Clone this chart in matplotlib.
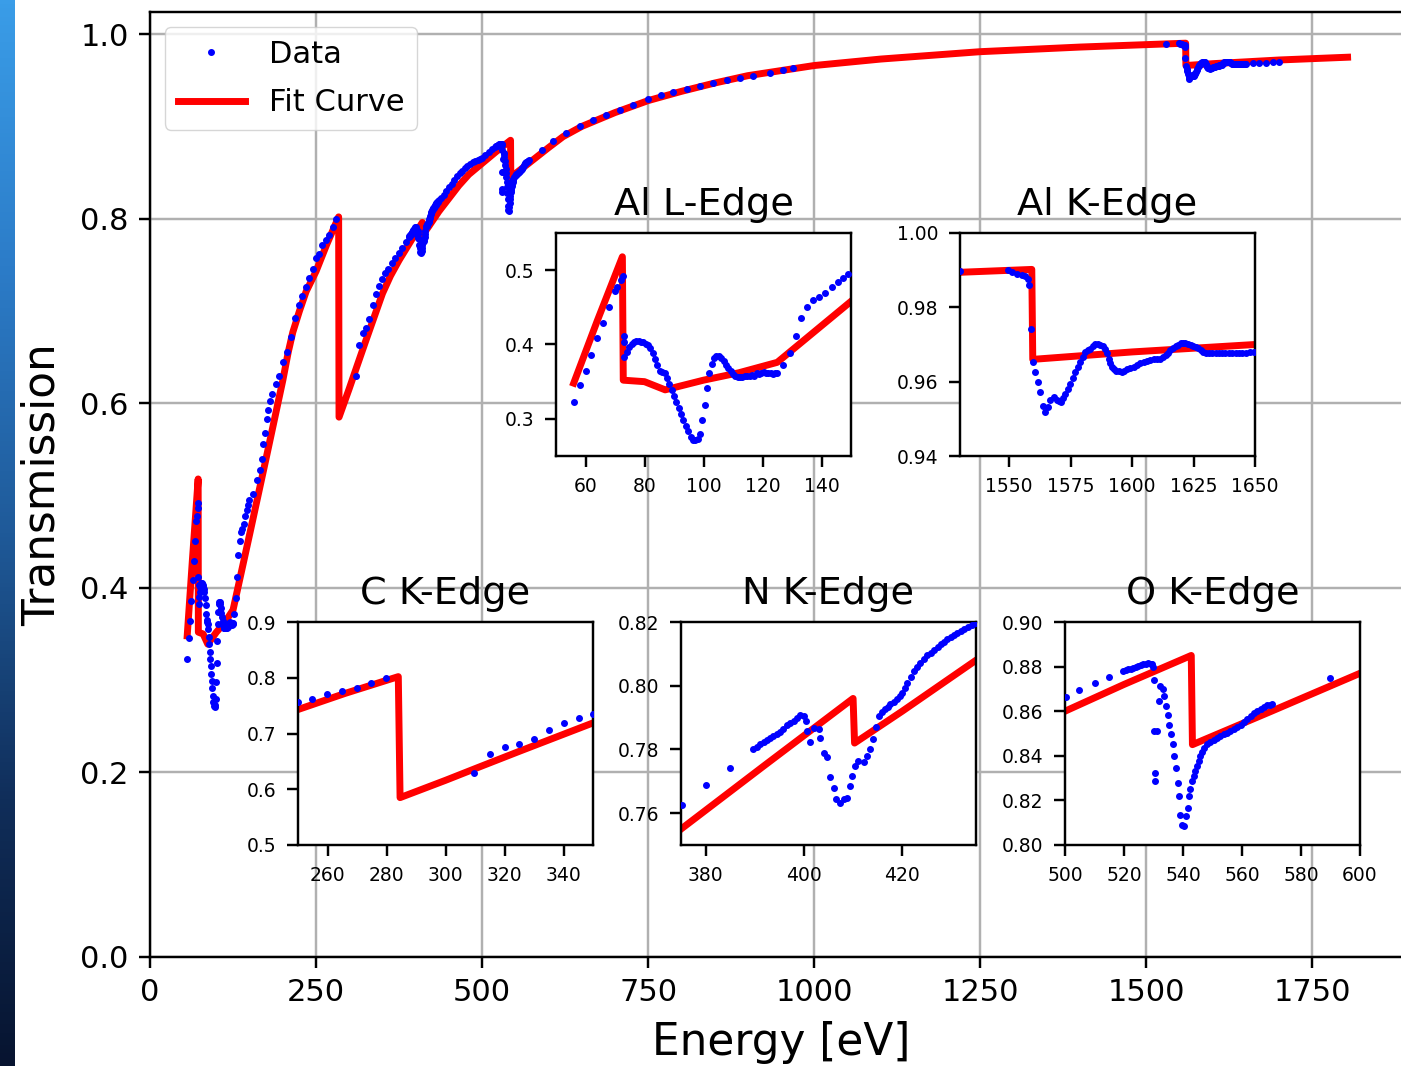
import numpy as np
import matplotlib
matplotlib.use('Agg')
import matplotlib.pyplot as plt
from matplotlib.colors import LinearSegmentedColormap

alL_E = [56.0, 58.0, 60.0, 62.0, 64.0, 66.0, 68.1, 70.0, 70.8, 71.9, 72.7, 73.0, 73.05, 73.1,
         74.0, 74.8, 75.6, 76.4, 77.2, 78.0, 78.8, 79.6, 80.4, 81.2, 82.0, 82.8, 83.6, 84.4,
         85.2, 86.0, 86.8, 87.6, 88.4, 89.2, 90.0, 90.8, 91.6, 92.4, 93.2, 94.0, 94.8, 95.6,
         96.4, 97.2, 98.0, 98.8, 99.6, 100.4, 101.2, 102.0, 102.8, 103.6, 104.4, 105.2, 106.0,
         106.8, 107.6, 108.4, 109.2, 110.0, 110.8, 111.6, 112.4, 113.2, 114.0, 114.8, 115.6,
         116.4, 117.2, 118.0, 118.8, 119.6, 120.4, 121.2, 122.0, 122.8, 123.6, 124.4, 125.0,
         127.0, 129.2, 131.2, 133.2, 135.2, 137.2, 139.1, 141.1, 143.4, 145.5, 147.4, 149.1]
alL_T = [0.323, 0.346, 0.364, 0.386, 0.409, 0.429, 0.451, 0.472, 0.478, 0.487, 0.492, 0.412, 0.403, 0.383,
         0.390, 0.396, 0.401, 0.404, 0.405, 0.405, 0.404, 0.403, 0.401, 0.399, 0.395, 0.389, 0.381, 0.372,
         0.365, 0.363, 0.361, 0.355, 0.347, 0.339, 0.331, 0.323, 0.315, 0.307, 0.299, 0.291, 0.283, 0.276,
         0.272, 0.271, 0.273, 0.280, 0.298, 0.319, 0.342, 0.361, 0.374, 0.382, 0.385, 0.385, 0.382,
         0.378, 0.373, 0.368, 0.364, 0.360, 0.357, 0.356, 0.356, 0.356, 0.357, 0.358, 0.357,
         0.359, 0.358, 0.361, 0.360, 0.362, 0.363, 0.362, 0.361, 0.362, 0.360, 0.361, 0.362,
         0.372, 0.389, 0.412, 0.436, 0.451, 0.460, 0.464, 0.469, 0.478, 0.484, 0.490, 0.495]

cK_E = [155.5, 161.5, 165.6, 168.0, 170.5, 173.0, 175.6, 178.0, 180.6, 184.1, 189.6, 194.6, 200.6,
        205.6, 211.6, 218.2, 224.2, 229.3, 234.3, 239.8, 244.8, 250.0, 254.8, 259.7, 264.8, 269.9,
        274.8, 279.8,
        309.6, 315.0, 320.1, 324.9, 330.0, 335.1, 340.2, 345.1, 349.9, 354.0, 359.0, 364.0, 369.0]
cK_T = [0.502, 0.517, 0.528, 0.540, 0.556, 0.568, 0.583, 0.593, 0.603, 0.610, 0.621, 0.630, 0.645,
        0.656, 0.672, 0.692, 0.707, 0.716, 0.726, 0.736, 0.746, 0.757, 0.762, 0.771, 0.777, 0.782,
        0.791, 0.800,
        0.630, 0.663, 0.676, 0.682, 0.691, 0.707, 0.718, 0.727, 0.735, 0.741, 0.746, 0.752, 0.757]

nK_E = [375.3, 380.0, 385.0,
        389.7, 390.4, 391.1, 391.8, 392.4, 393.1, 393.8, 394.5, 395.2, 395.8, 396.5, 397.2, 397.9,
        398.6, 399.3, 400.1, 400.5,
        400.7, 401.3, 402.0, 403.0, 403.3, 404.0, 404.7, 405.4, 406.1, 406.6, 407.3, 408.1, 408.8,
        409.3, 409.8, 410.3, 411.0, 412.2, 412.9, 413.5, 414.1, 414.6,
        415.2, 415.8, 416.4, 417.0, 417.6, 418.3, 419.0, 419.5, 420.0, 420.5, 421.0, 421.7, 422.4,
        423.0, 423.7, 424.4, 425.1, 425.8, 426.5, 427.2, 427.8, 428.5, 429.2, 429.9, 430.5, 431.2,
        431.9, 432.6, 433.3, 434.1, 435.0,
        438, 442, 446, 450, 454, 458, 462, 466, 470, 474, 478, 482, 486, 490, 494, 497]
nK_T = [0.7625, 0.7688, 0.7743,
        0.7800, 0.7808, 0.7816, 0.7823, 0.7830, 0.7836, 0.7842, 0.7849, 0.7855, 0.7865, 0.7876,
        0.7883, 0.7890, 0.7898, 0.7907, 0.7905, 0.7890,
        0.7858, 0.7822, 0.7866, 0.7863, 0.7837, 0.7790, 0.7775, 0.7712, 0.7680, 0.7644, 0.7633,
        0.7644, 0.7649, 0.7686, 0.7717, 0.7748, 0.7764, 0.7761, 0.7780, 0.7800, 0.7832, 0.7869,
        0.7905, 0.7916, 0.7926, 0.7934, 0.7942, 0.7950, 0.7957, 0.7967, 0.7978, 0.7994, 0.8010,
        0.8028, 0.8046, 0.8059, 0.8072, 0.8084, 0.8095, 0.8104, 0.8112, 0.8121, 0.8130, 0.8138,
        0.8146, 0.8152, 0.8158, 0.8165, 0.8172, 0.8179, 0.8185, 0.8192, 0.8198,
        0.822, 0.826, 0.830, 0.834, 0.838, 0.842, 0.846, 0.849, 0.852, 0.855, 0.857, 0.859,
        0.861, 0.863, 0.864, 0.865]

oK_E = [500.3, 504.9, 510.0, 514.9,
        519.8, 520.6, 521.5, 522.3, 523.2, 524.0, 524.9, 525.7, 526.6, 527.4, 528.3, 529.0, 529.4, 529.8,
        530.0, 530.2, 531.1, 530.6, 530.6, 531.7, 532.3, 533.1, 533.6, 534.2, 534.8, 535.3, 535.9,
        536.5, 537.0, 537.6, 538.2, 538.7, 539.1, 539.6, 540.2, 541.1, 541.6, 541.9, 542.5, 543.0,
        543.6, 544.2, 544.8, 545.3, 545.9, 546.4, 547.2, 548.1, 549.2, 550.4, 551.5, 552.7, 553.8,
        554.9, 556.0, 557.2, 558.3, 559.5, 560.6, 561.7, 562.9, 564.0, 565.2, 566.3, 567.4, 568.5,
        569.4, 570.2, 589.8,
        607, 627, 647, 667, 687, 707, 727, 750, 770, 788, 808, 828, 848, 868, 888, 908, 933, 953, 968]
oK_T = [0.8663, 0.8695, 0.8725, 0.8753,
        0.8780, 0.8784, 0.8787, 0.8791, 0.8795, 0.8798, 0.8802, 0.8806, 0.8810, 0.8812, 0.8814,
        0.8812, 0.8810, 0.8798,
        0.8740, 0.8510, 0.8510, 0.8323, 0.8286, 0.8645, 0.8713, 0.8700, 0.8668, 0.8623, 0.8585,
        0.8540, 0.8496, 0.8451, 0.8398, 0.8346, 0.8278, 0.8219, 0.8136, 0.8091, 0.8084, 0.8129,
        0.8166, 0.8219, 0.8249, 0.8286, 0.8310, 0.8331, 0.8355, 0.8376, 0.8397, 0.8416, 0.8434,
        0.8451, 0.8463, 0.8473, 0.8481, 0.8488, 0.8496, 0.8503, 0.8511, 0.8518, 0.8529, 0.8540,
        0.8551, 0.8563, 0.8577, 0.8590, 0.8601, 0.8611, 0.8619, 0.8626, 0.8630, 0.8633, 0.8750,
        0.884, 0.893, 0.901, 0.907, 0.912, 0.918, 0.923, 0.930, 0.934, 0.937, 0.941, 0.944,
        0.947, 0.950, 0.952, 0.955, 0.958, 0.961, 0.963]

alK_E = [1530.0, 1549.7, 1551.1, 1553.1, 1555.2, 1556.5, 1557.5, 1557.9, 1558.8, 1559.5, 1560.6,
         1561.7, 1562.6, 1563.6, 1564.7, 1565.6, 1566.7, 1568.1, 1569.4, 1570.3, 1571.2, 1572.0,
         1572.8, 1573.9, 1574.9, 1575.9, 1576.9, 1577.9, 1578.9, 1580.0, 1581.0, 1582.0, 1583.0,
         1584.0, 1585.1, 1586.1, 1587.1, 1588.0, 1588.9, 1589.7, 1590.5, 1591.2, 1591.8, 1592.6,
         1593.5, 1594.6, 1595.7, 1596.8, 1598.0, 1599.3, 1600.7, 1602.0, 1603.4, 1604.7, 1606.1,
         1607.4, 1608.8, 1610.1, 1611.5, 1612.5, 1613.6, 1614.6, 1615.6, 1616.6, 1617.7, 1618.7,
         1619.7, 1620.7, 1621.7, 1622.7, 1623.8, 1624.8, 1625.8, 1626.8, 1627.9, 1628.9, 1629.9,
         1631.2, 1632.6, 1634.0, 1635.3, 1636.7, 1638.0, 1639.4, 1640.8, 1642.1, 1643.5, 1644.8,
         1646.2, 1647.9, 1649.6, 1660, 1670, 1680, 1690, 1700]
alK_T = [0.9898, 0.9901, 0.9895, 0.9891, 0.9886, 0.9884, 0.9877, 0.9859, 0.9743, 0.9653, 0.9627,
         0.9600, 0.9573, 0.9534, 0.9519, 0.9533, 0.9550, 0.9558, 0.9550, 0.9547, 0.9546, 0.9556,
         0.9568, 0.9581, 0.9595, 0.9611, 0.9627, 0.9640, 0.9653, 0.9667, 0.9680, 0.9685, 0.9689,
         0.9695, 0.9701, 0.9701, 0.9700, 0.9695, 0.9689, 0.9676, 0.9662, 0.9651, 0.9640, 0.9634,
         0.9629, 0.9628, 0.9627, 0.9630, 0.9633, 0.9637, 0.9640, 0.9645, 0.9649, 0.9653, 0.9656,
         0.9658, 0.9660, 0.9661, 0.9662, 0.9666, 0.9671, 0.9678, 0.9685, 0.9690, 0.9696, 0.9700,
         0.9703, 0.9703, 0.9703, 0.9702, 0.9700, 0.9697, 0.9694, 0.9690, 0.9685, 0.9681, 0.9678,
         0.9677, 0.9676, 0.9677, 0.9678, 0.9678, 0.9678, 0.9677, 0.9676, 0.9676, 0.9676, 0.9677,
         0.9678, 0.9679, 0.9680, 0.9683, 0.9688, 0.9692, 0.9695, 0.9698]

# Fit curve vertices
fit_E = [56, 64, 72.5, 72.8, 80, 87, 100, 112, 125, 150, 175, 200, 208, 215, 225, 235, 250, 266,
         284, 284.6, 300, 311, 325, 350, 362, 375, 392, 410, 410.3, 420, 435, 450, 465, 480, 500,
         520, 542.8, 543.2, 570, 600, 622, 650, 700, 750, 800, 850, 900, 1000, 1100, 1250, 1400,
         1559.2, 1559.6, 1600, 1650, 1700, 1803]
fit_T = [0.348, 0.432, 0.518, 0.352, 0.350, 0.339, 0.352, 0.362, 0.376, 0.458, 0.541, 0.625, 0.655,
         0.677, 0.700, 0.721, 0.743, 0.772, 0.802, 0.585, 0.616, 0.639, 0.668, 0.719, 0.738, 0.755,
         0.775, 0.796, 0.782, 0.792, 0.808, 0.822, 0.836, 0.848, 0.860, 0.872, 0.885, 0.845, 0.860,
         0.877, 0.889, 0.900, 0.915, 0.928, 0.938, 0.947, 0.955, 0.966, 0.973, 0.981, 0.986,
         0.9902, 0.966, 0.968, 0.970, 0.972, 0.975]

data_E = alL_E + cK_E + nK_E + oK_E + alK_E
data_T = alL_T + cK_T + nK_T + oK_T + alK_T

W, H = 1401, 1066
fig = plt.figure(figsize=(W / 100, H / 100), dpi=100)

# blue strip on the left edge (slide background)
strip = fig.add_axes([0, 0, 15 / W, 1])
cmap = LinearSegmentedColormap.from_list('strip', ['#3a9de8', '#2c7cc8', '#1f5a99', '#102e5a', '#071430'])
strip.imshow(np.linspace(0, 1, 256).reshape(-1, 1), aspect='auto', cmap=cmap)
strip.axis('off')

# main axes
ax = fig.add_axes([150 / W, 109 / H, 1262 / W, 945 / H])
ax.plot(data_E, data_T, '.', color='blue', ms=8, label='Data', zorder=3)
ax.plot(fit_E, fit_T, '-', color='red', lw=5, label='Fit Curve', zorder=2)
ax.set_xlim(0, 1900)
ax.set_ylim(0, 1.024)
ax.set_xticks([0, 250, 500, 750, 1000, 1250, 1500, 1750])
ax.set_yticks([0.0, 0.2, 0.4, 0.6, 0.8, 1.0])
ax.grid(True, color='#b0b0b0', lw=1.75)
ax.tick_params(labelsize=22, length=7.7, width=1.75, pad=7.7)
for s in ax.spines.values():
    s.set_linewidth(1.75)
ax.set_xlabel('Energy [eV]', fontsize=31.5, labelpad=10)
ax.set_ylabel('Transmission', fontsize=31.5, labelpad=12)
ax.legend(loc='upper left', fontsize=22, borderaxespad=0.5, handlelength=2.2, labelspacing=0.65)

# insets: (left px, top px, xlim, ylim, xticks, yticks, title)
insets = [
    (556, 233, (50, 150), (0.25, 0.55), [60, 80, 100, 120, 140], [0.3, 0.4, 0.5], 'Al L-Edge'),
    (960, 233, (1530, 1650), (0.94, 1.00), [1550, 1575, 1600, 1625, 1650],
     [0.94, 0.96, 0.98, 1.00], 'Al K-Edge'),
    (298, 622, (250, 350), (0.5, 0.9), [260, 280, 300, 320, 340], [0.5, 0.6, 0.7, 0.8, 0.9], 'C K-Edge'),
    (681, 622, (375, 435), (0.75, 0.82), [380, 400, 420], [0.76, 0.78, 0.80, 0.82], 'N K-Edge'),
    (1065, 622, (500, 600), (0.80, 0.90), [500, 520, 540, 560, 580, 600],
     [0.80, 0.82, 0.84, 0.86, 0.88, 0.90], 'O K-Edge'),
]
yfmt = {'Al L-Edge': '{:.1f}', 'C K-Edge': '{:.1f}'}
for left, top, xl, yl, xt, yt, title in insets:
    a = fig.add_axes([left / W, (H - top - 223) / H, 295 / W, 223 / H])
    a.plot(fit_E, fit_T, '-', color='red', lw=5, zorder=2)
    a.plot(data_E, data_T, '.', color='blue', ms=8, zorder=3)
    a.set_xlim(*xl)
    a.set_ylim(*yl)
    a.set_xticks(xt)
    a.set_yticks(yt)
    f = yfmt.get(title, '{:.2f}')
    a.set_yticklabels([f.format(v) for v in yt])
    a.tick_params(labelsize=13.5, length=7.7, width=1.75, pad=7.7)
    for s in a.spines.values():
        s.set_linewidth(1.75)
    a.set_title(title, fontsize=27.5, pad=13)

fig.savefig('out.png', dpi=100)
